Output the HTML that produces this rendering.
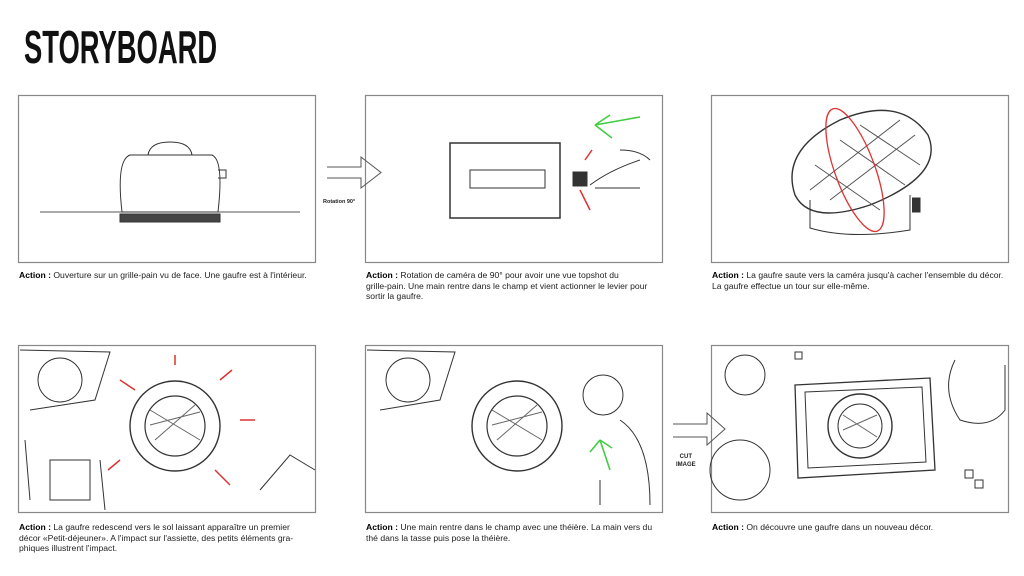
<!DOCTYPE html>
<html><head><meta charset="utf-8"><style>
html,body{margin:0;padding:0;background:#fff;width:1024px;height:576px;overflow:hidden;position:relative;font-family:"Liberation Sans",sans-serif}
.t{position:absolute;left:24px;top:22px;font-size:46px;font-weight:bold;font-family:"Liberation Sans Narrow","Liberation Sans",sans-serif;transform:scaleX(0.595);transform-origin:left top;line-height:50px;color:#111}
.c{position:absolute;font-size:8.6px;line-height:10.5px;color:#222;font-family:"Liberation Sans",sans-serif;white-space:nowrap}
.c b{color:#000}
svg{position:absolute;left:0;top:0}
</style></head><body>
<div class="t">STORYBOARD</div>
<svg width="1024" height="576" viewBox="0 0 1024 576" fill="none" stroke="#333" stroke-width="1">
<g stroke="#888" stroke-width="1.2">
<rect x="18.5" y="95.5" width="297" height="167"/>
<rect x="365.5" y="95.5" width="297" height="167"/>
<rect x="711.5" y="95.5" width="297" height="167"/>
<rect x="18.5" y="345.5" width="297" height="167"/>
<rect x="365.5" y="345.5" width="297" height="167"/>
<rect x="711.5" y="345.5" width="297" height="167"/>
</g>
<path d="M327 167H361V157L381 172.5L361 188V178H327" stroke="#555"/>
<path d="M673 424H707V413L725 429L707 445V437H673" stroke="#555"/>
<path d="M40 212H300" stroke="#555"/>
<path d="M122 212 Q116 160 130 155 H212 Q224 160 218 212 Z"/>
<path d="M120 214H220V222H120Z" fill="#444"/>
<path d="M148 155 Q150 142 170 142 Q190 142 192 155"/>
<path d="M218 170H226V178H218"/>
<path d="M450 143H560V218H450Z" stroke-width="1.5"/>
<path d="M470 170H545V188H470Z"/>
<rect x="573" y="172" width="14" height="14" fill="#333"/>
<path d="M590 185 Q610 170 640 160 M595 188 H640 M620 150 Q640 150 650 160" />
<path d="M595 125 L640 117 M595 125 L610 115 M595 125 L612 138" stroke="#4c4" stroke-width="1.6"/>
<path d="M585 160 L592 150 M580 190 L590 210" stroke="#d33" stroke-width="1.5"/>
<path d="M795 195 Q780 150 840 120 Q900 95 928 135 Q945 175 870 205 Q810 225 795 195Z" stroke-width="1.4"/>
<path d="M810 190 L900 120 M830 200 L915 135 M815 165 L880 210 M840 140 L905 185 M860 125 L920 165" stroke="#555"/>
<path d="M810 200 V228 Q850 240 910 230 V195"/>
<path d="M912 198H920V212H912" fill="#333"/>
<ellipse cx="855" cy="170" rx="20" ry="65" transform="rotate(-20 855 170)" stroke="#d33" stroke-width="1.3"/>
<circle cx="175" cy="426" r="45" stroke-width="1.4"/>
<circle cx="175" cy="426" r="30" stroke-width="1.2"/>
<path d="M150 410 L200 440 M150 425 L200 412 M155 440 L195 405" stroke="#666"/>
<circle cx="60" cy="380" r="22"/>
<path d="M20 350 L110 352 L95 400 L30 410" />
<path d="M50 460 H90 V500 H50Z M25 440 L30 500"/>
<path d="M260 490 L290 455 L315 470 M100 460 L105 510"/>
<path d="M135 390 L120 380 M220 380 L232 370 M120 460 L108 470 M215 470 L230 485 M175 365 V355 M240 420 H255" stroke="#d33" stroke-width="1.5"/>
<circle cx="517" cy="426" r="45" stroke-width="1.4"/>
<circle cx="517" cy="426" r="30" stroke-width="1.2"/>
<path d="M492 410 L542 440 M492 425 L542 412 M497 440 L537 405" stroke="#666"/>
<circle cx="408" cy="380" r="22"/>
<path d="M367 350 L455 352 L440 400 L380 410"/>
<circle cx="603" cy="395" r="20"/>
<path d="M620 420 Q650 440 650 505 M600 480 V505"/>
<path d="M610 470 L600 440 M600 440 L590 452 M600 440 L612 448" stroke="#4c4" stroke-width="1.6"/>
<path d="M795 385 L930 378 L935 470 L798 478Z" stroke-width="1.3"/>
<path d="M805 392 L922 387 L926 462 L808 468Z"/>
<circle cx="860" cy="426" r="32" stroke-width="1.4"/>
<circle cx="860" cy="426" r="22"/>
<path d="M843 415 L877 437 M843 430 L877 415" stroke="#666"/>
<circle cx="745" cy="375" r="20"/>
<circle cx="740" cy="470" r="30"/>
<path d="M955 360 Q940 390 960 420 Q990 430 1005 410 V365"/>
<path d="M965 470 h8v8h-8z M975 480 h8v8h-8z M795 352 h7v7h-7z"/>
</svg>
<div style="position:absolute;left:323px;top:199px;font-size:5.5px;font-weight:bold;color:#222">Rotation 90°</div>
<div style="position:absolute;left:676px;top:453px;font-size:6px;font-weight:bold;color:#222;text-align:center;line-height:8px">CUT<br>IMAGE</div>
<div class="c" style="left:19px;top:270px"><b>Action :</b> Ouverture sur un grille-pain vu de face. Une gaufre est à l'intérieur.</div>
<div class="c" style="left:366px;top:270px"><b>Action :</b> Rotation de caméra de 90° pour avoir une vue topshot du<br>grille-pain. Une main rentre dans le champ et vient actionner le levier pour<br>sortir la gaufre.</div>
<div class="c" style="left:712px;top:270px"><b>Action :</b> La gaufre saute vers la caméra jusqu'à cacher l'ensemble du décor.<br>La gaufre effectue un tour sur elle-même.</div>
<div class="c" style="left:19px;top:522px"><b>Action :</b> La gaufre redescend vers le sol laissant apparaître un premier<br>décor «Petit-déjeuner». A l'impact sur l'assiette, des petits éléments gra-<br>phiques illustrent l'impact.</div>
<div class="c" style="left:366px;top:522px"><b>Action :</b> Une main rentre dans le champ avec une théière. La main vers du<br>thé dans la tasse puis pose la théière.</div>
<div class="c" style="left:712px;top:522px"><b>Action :</b> On découvre une gaufre dans un nouveau décor.</div>
</body></html>
